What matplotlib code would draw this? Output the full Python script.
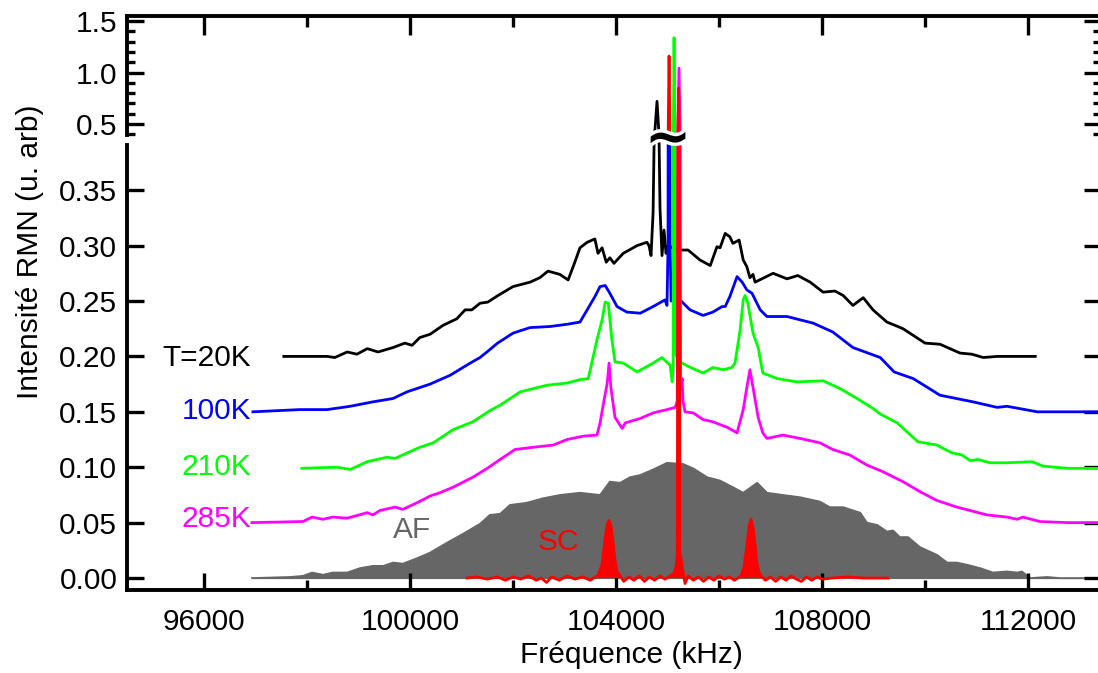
import numpy as np
import matplotlib
matplotlib.use('Agg')
import matplotlib.pyplot as plt
import matplotlib.patheffects as pe
from matplotlib.ticker import MultipleLocator, FormatStrFormatter

plt.rcParams['font.family'] = ['Liberation Sans', 'DejaVu Sans']

FS = 21.5

# columns: frequency (kHz), intensity (arb. units)
t20k = np.array([
    [97550, 0.200], [98390, 0.200], [98540, 0.199], [98780, 0.204], [98970, 0.202],
    [99170, 0.207], [99380, 0.204], [99670, 0.208], [99900, 0.212], [100040, 0.210],
    [100190, 0.217], [100390, 0.220], [100640, 0.228], [100910, 0.234], [101070, 0.242],
    [101200, 0.242], [101360, 0.248], [101510, 0.249], [101710, 0.255], [102000, 0.263],
    [102330, 0.267], [102520, 0.271], [102680, 0.277], [102910, 0.274], [103070, 0.269],
    [103200, 0.285], [103300, 0.298], [103440, 0.303], [103590, 0.306], [103650, 0.293],
    [103730, 0.298], [103810, 0.285], [103880, 0.289], [103960, 0.284], [104140, 0.293],
    [104410, 0.300], [104600, 0.303], [104640, 0.300], [104680, 0.291], [104720, 0.330],
    [104757, 0.450], [104796, 0.720], [104835, 0.400], [104854, 0.334], [104893, 0.291],
    [104932, 0.314], [104971, 0.293], [105010, 0.300], [105100, 0.298], [105280, 0.296],
    [105400, 0.296], [105630, 0.287], [105830, 0.282], [105960, 0.299], [106020, 0.298],
    [106120, 0.311], [106210, 0.308], [106270, 0.302], [106390, 0.305], [106470, 0.287],
    [106540, 0.281], [106600, 0.271], [106660, 0.274], [106700, 0.267], [107050, 0.275],
    [107320, 0.270], [107530, 0.273], [107770, 0.267], [108020, 0.258], [108250, 0.259],
    [108410, 0.255], [108600, 0.246], [108800, 0.253], [108990, 0.242], [109260, 0.231],
    [109470, 0.227], [109573, 0.225], [110000, 0.212], [110290, 0.211], [110680, 0.203],
    [110910, 0.202], [111130, 0.199], [111400, 0.200], [112140, 0.200],
])

t100k = np.array([
    [96950, 0.150], [97860, 0.152], [98390, 0.152], [98840, 0.155], [99280, 0.159],
    [99670, 0.162], [99940, 0.168], [100390, 0.175], [100780, 0.183], [101170, 0.194],
    [101360, 0.199], [101520, 0.205], [101700, 0.212], [102000, 0.221], [102330, 0.226],
    [102720, 0.227], [103050, 0.229], [103300, 0.231], [103440, 0.242], [103590, 0.254],
    [103690, 0.263], [103790, 0.264], [103880, 0.257], [104020, 0.245], [104210, 0.240],
    [104470, 0.239], [104720, 0.245], [104950, 0.251], [104990, 0.246], [105010, 0.300],
    [105030, 1.160], [105050, 0.300], [105070, 0.250], [105243, 0.251], [105437, 0.242],
    [105690, 0.237], [105880, 0.240], [106060, 0.245], [106120, 0.245], [106210, 0.254],
    [106350, 0.272], [106450, 0.267], [106540, 0.260], [106640, 0.257], [106800, 0.242],
    [106930, 0.236], [107320, 0.236], [107830, 0.230], [108210, 0.222], [108600, 0.208],
    [109130, 0.199], [109400, 0.186], [109770, 0.180], [110290, 0.165], [110930, 0.159],
    [111400, 0.154], [111590, 0.155], [112180, 0.150], [113400, 0.150],
])

t210k = np.array([
    [97900, 0.099], [98580, 0.100], [98840, 0.098], [99170, 0.105], [99550, 0.109],
    [99710, 0.108], [100190, 0.118], [100450, 0.122], [100840, 0.134], [101220, 0.141],
    [101550, 0.151], [101750, 0.156], [102140, 0.168], [102660, 0.174], [103050, 0.176],
    [103300, 0.179], [103460, 0.180], [103500, 0.188], [103630, 0.215], [103730, 0.233],
    [103790, 0.249], [103850, 0.248], [103920, 0.215], [103980, 0.195], [104140, 0.194],
    [104410, 0.186], [104720, 0.194], [104890, 0.199], [105050, 0.192], [105090, 0.177],
    [105110, 0.190], [105127, 1.338], [105145, 0.210], [105170, 0.200], [105243, 0.195],
    [105400, 0.191], [105690, 0.185], [105880, 0.190], [106080, 0.188], [106250, 0.190],
    [106310, 0.194], [106410, 0.224], [106470, 0.251], [106505, 0.255], [106560, 0.248],
    [106660, 0.221], [106760, 0.208], [106850, 0.185], [107130, 0.180], [107510, 0.177],
    [108020, 0.178], [108350, 0.171], [108680, 0.162], [108990, 0.153], [109130, 0.148],
    [109460, 0.140], [109860, 0.123], [110230, 0.120], [110520, 0.113], [110720, 0.111],
    [110870, 0.106], [111030, 0.107], [111260, 0.104], [111590, 0.104], [112080, 0.105],
    [112290, 0.101], [112760, 0.099], [113400, 0.099],
])

t285k = np.array([
    [96930, 0.050], [97920, 0.051], [98100, 0.055], [98310, 0.053], [98500, 0.055],
    [98780, 0.054], [99170, 0.059], [99280, 0.057], [99420, 0.061], [99710, 0.064],
    [99860, 0.062], [100140, 0.068], [100390, 0.074], [100580, 0.077], [100840, 0.082],
    [101220, 0.091], [101500, 0.099], [101750, 0.107], [102040, 0.116], [102390, 0.118],
    [102780, 0.120], [103050, 0.125], [103360, 0.128], [103630, 0.129], [103690, 0.140],
    [103770, 0.161], [103830, 0.176], [103865, 0.194], [103900, 0.172], [103980, 0.145],
    [104120, 0.135], [104180, 0.140], [104470, 0.144], [104720, 0.149], [104990, 0.152],
    [105150, 0.154], [105190, 0.160], [105223, 1.043], [105255, 0.170], [105285, 0.180],
    [105300, 0.160], [105340, 0.150], [105500, 0.149], [105690, 0.143], [105880, 0.141],
    [106160, 0.136], [106350, 0.131], [106470, 0.152], [106540, 0.172], [106600, 0.188],
    [106660, 0.172], [106760, 0.145], [106850, 0.131], [106930, 0.126], [107240, 0.129],
    [107570, 0.126], [107960, 0.122], [108210, 0.116], [108540, 0.111], [108870, 0.102],
    [109180, 0.096], [109570, 0.087], [109900, 0.078], [110230, 0.070], [110620, 0.064],
    [110870, 0.061], [111200, 0.057], [111590, 0.055], [111790, 0.053], [111900, 0.055],
    [112230, 0.051], [112760, 0.050], [113400, 0.050],
])

af = np.array([
    [96930, 0.000], [97670, 0.001], [97920, 0.002], [98100, 0.005], [98310, 0.003],
    [98500, 0.005], [98780, 0.005], [99030, 0.009], [99280, 0.011], [99480, 0.011],
    [99670, 0.014], [99860, 0.013], [100140, 0.018], [100390, 0.023], [100720, 0.032],
    [101030, 0.040], [101360, 0.049], [101550, 0.057], [101750, 0.058], [101940, 0.066],
    [102270, 0.068], [102580, 0.072], [102910, 0.075], [103300, 0.077], [103690, 0.075],
    [103880, 0.087], [104080, 0.086], [104270, 0.091], [104470, 0.093], [104720, 0.098],
    [104990, 0.104], [105300, 0.103], [105500, 0.099], [105770, 0.091], [106020, 0.088],
    [106270, 0.082], [106470, 0.077], [106740, 0.086], [106930, 0.077], [107240, 0.075],
    [107570, 0.073], [107960, 0.069], [108150, 0.064], [108410, 0.064], [108740, 0.059],
    [108870, 0.050], [109070, 0.048], [109260, 0.042], [109380, 0.043], [109510, 0.037],
    [109670, 0.037], [109900, 0.028], [110230, 0.021], [110430, 0.014], [110620, 0.014],
    [110820, 0.012], [111070, 0.009], [111320, 0.005], [111590, 0.006], [111790, 0.005],
    [111880, 0.006], [112040, 0.000], [112370, 0.001], [112620, 0.000], [113400, 0.000],
])

sc = np.array([
    [101107, 0.000], [101300, 0.001], [101500, -0.001], [101700, 0.001], [101850, -0.002],
    [102000, 0.001], [102150, -0.001], [102300, 0.002], [102450, -0.002], [102550, 0.000],
    [102650, -0.004], [102750, 0.001], [102900, -0.002], [103050, 0.002], [103200, -0.001],
    [103350, 0.001], [103500, -0.002], [103600, 0.001], [103650, 0.002], [103728, 0.012],
    [103786, 0.035], [103825, 0.048], [103864, 0.052], [103903, 0.047], [103942, 0.033],
    [103981, 0.016], [104019, 0.006], [104078, 0.002], [104150, -0.003], [104250, 0.001],
    [104350, -0.002], [104450, 0.002], [104550, -0.003], [104650, 0.001], [104750, -0.002],
    [104850, 0.002], [104950, -0.001], [105050, 0.002], [105120, 0.004], [105165, 0.010],
    [105190, 0.022], [105215, 0.850], [105240, 0.022], [105262, 0.018], [105300, 0.006],
    [105340, -0.005], [105400, 0.002], [105500, -0.002], [105600, 0.001], [105700, -0.003],
    [105800, 0.001], [105900, -0.002], [106000, 0.002], [106100, -0.001], [106200, 0.001],
    [106300, -0.002], [106400, 0.001], [106427, 0.002], [106485, 0.010], [106544, 0.030],
    [106583, 0.047], [106621, 0.053], [106660, 0.046], [106699, 0.030], [106738, 0.013],
    [106777, 0.005], [106835, 0.001], [106900, -0.002], [107000, 0.001], [107100, -0.003],
    [107200, 0.001], [107300, -0.002], [107400, 0.002], [107500, -0.001], [107600, -0.003],
    [107700, 0.001], [107800, -0.002], [107900, 0.001], [108000, -0.001], [108200, 0.000],
    [108500, 0.001], [108800, 0.000], [109000, 0.000], [109281, 0.000],
])

series = [t20k, t100k, t210k, t285k]
series_labels = ['T=20K', '100K', '210K', '285K']
series_colors = ['#000000', '#0000ff', '#00ff00', '#ff00ff']
upper_colors = ['#000000', '#ff0000', '#00ff00', '#ff00ff']
label_pos = [(96913, 0.199), (96913, 0.151), (96913, 0.100), (96913, 0.053)]

x_lim = (94505, 113417)

fig = plt.figure(figsize=(10.98, 6.73), dpi=100)
ax_lo = fig.add_axes([0.11567, 0.12333, 0.88707, 0.66865])
ax_hi = fig.add_axes([0.11567, 0.79198, 0.88707, 0.18425])

for ax in (ax_lo, ax_hi):
    ax.fill_between(af[:, 0], 0, af[:, 1], color='#666666', lw=0.8, zorder=1)
    ax.plot(af[:, 0], af[:, 1], color='#666666', lw=1.2, zorder=1)
    cols = series_colors if ax is ax_lo else upper_colors
    for s, c in zip(series, cols):
        ax.plot(s[:, 0], s[:, 1], color=c, lw=2.0, zorder=2)
    ax.fill_between(sc[:, 0], 0, np.clip(sc[:, 1], 0, None), color='#ff0000', lw=0, zorder=3)
    ax.plot(sc[:, 0], sc[:, 1], color='#ff0000', lw=2.0, zorder=3)
    ax.set_xlim(*x_lim)
    ax.set_facecolor('none')
    for sp in ax.spines.values():
        sp.set_linewidth(2.8)
    ax.spines['right'].set_visible(False)
    ax.tick_params(which='both', direction='in', width=2.4, labelsize=FS)
    ax.xaxis.set_major_locator(MultipleLocator(4000))
    ax.xaxis.set_minor_locator(MultipleLocator(2000))

ax_lo.set_ylim(-0.0108, 0.3953)
ax_hi.set_ylim(0.345, 1.549)

ax_lo.spines['top'].set_visible(False)
ax_lo.spines['left'].set_bounds(-0.0108, 0.391)
ax_lo.yaxis.set_major_locator(MultipleLocator(0.05))
ax_lo.yaxis.set_major_formatter(FormatStrFormatter('%.2f'))
ax_lo.tick_params(axis='y', which='major', length=12, pad=7, left=True, right=True)
ax_lo.tick_params(axis='x', which='major', length=12, pad=13, top=False)
ax_lo.tick_params(axis='x', which='minor', length=7, top=False)
ax_lo.xaxis.set_major_formatter(FormatStrFormatter('%d'))

ax_hi.spines['bottom'].set_visible(False)
ax_hi.spines['left'].set_bounds(0.39, 1.549)
ax_hi.yaxis.set_major_locator(MultipleLocator(0.5))
ax_hi.yaxis.set_minor_locator(MultipleLocator(0.1))
ax_hi.yaxis.set_major_formatter(FormatStrFormatter('%.1f'))
ax_hi.tick_params(axis='y', which='major', length=12, pad=7, left=True, right=True)
ax_hi.tick_params(axis='y', which='minor', length=6, left=True, right=True)
ax_hi.tick_params(axis='x', which='major', length=14, bottom=False, top=True,
                  labelbottom=False, labeltop=False)
ax_hi.tick_params(axis='x', which='minor', length=8, bottom=False, top=True)

for (x, y), txt, c in zip(label_pos, series_labels, series_colors):
    ax_lo.text(x, y, txt, color=c, fontsize=FS, ha='right', va='center')
ax_lo.text(100040, 0.043, 'AF', color='#666666', fontsize=FS, ha='center', va='center')
ax_lo.text(102874, 0.0325, 'SC', color='#ff0000', fontsize=FS, ha='center', va='center')

fig.text(0.027, 0.6256, 'Intensité RMN (u. arb)', rotation=90, fontsize=FS,
         ha='center', va='center')
fig.text(0.5747, 0.027, 'Fréquence (kHz)', fontsize=FS, ha='center', va='center')

# break mark over the central lines
fig.text(668 / 1098, 1 - 140 / 673, '~', fontsize=40, fontweight='bold',
         family='DejaVu Sans', ha='center', va='center', zorder=10,
         path_effects=[pe.withStroke(linewidth=5, foreground='white')])

fig.savefig('out.png', dpi=100)
